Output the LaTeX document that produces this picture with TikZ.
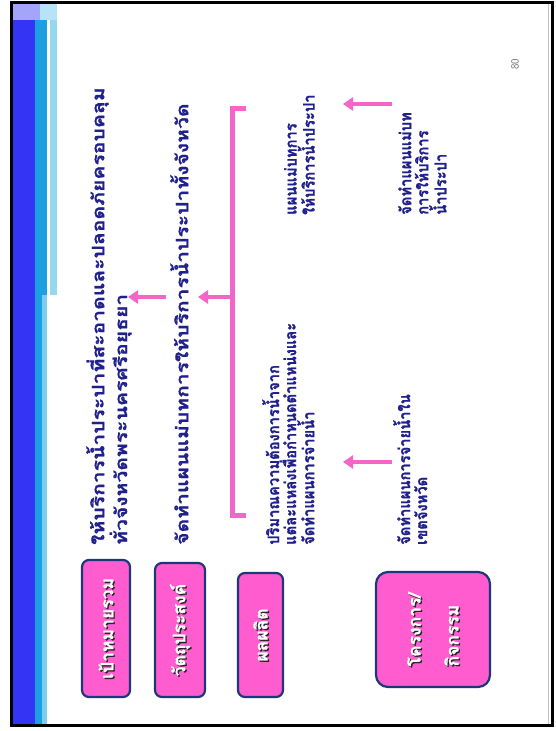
\documentclass[tikz,border=0pt]{standalone}
\usepackage{fontspec}
\newfontfamily\thaifont[Script=Thai, BoldFeatures={FakeBold=0.8}]{Loma}
\newfontfamily\thaiwide[Script=Thai, FakeStretch=1.24, BoldFeatures={FakeBold=0.8}]{Loma}
\newfontfamily\thainarrow[Script=Thai, FakeStretch=0.92, BoldFeatures={FakeBold=1}]{Loma}
\usetikzlibrary{arrows.meta,calc}
\definecolor{navy}{RGB}{32,32,140}
\definecolor{hotpink}{RGB}{245,100,200}
\definecolor{boxpink}{RGB}{255,92,208}
\definecolor{boxedge}{RGB}{30,55,120}
\definecolor{bandblue}{RGB}{52,52,245}
\definecolor{bandcyan}{RGB}{28,160,226}
\definecolor{bandlight}{RGB}{150,215,240}
\begin{document}
\begin{tikzpicture}[x=1pt,y=-1pt,
  txt/.style={rotate=90, anchor=north west, align=left, text=navy, inner sep=0pt,
    font=\thainarrow\bfseries\fontsize{16}{17}\selectfont},
  bigtxt/.style={txt, font=\thaiwide\bfseries\fontsize{17}{17}\selectfont},
  box/.style={draw=boxedge, line width=2.2pt, fill=boxpink, rounded corners=7pt,
    rotate=90, inner sep=0pt},
  boxlbl/.style={rotate=90, align=left, inner sep=0pt,
    font=\thaifont\bfseries\fontsize{17.5}{20}\selectfont},
  parrow/.style={draw=hotpink, line width=4.5pt, -{Triangle[length=10pt,width=13pt]}},
  brk/.style={draw=hotpink, line width=5pt}]
\useasboundingbox (0,0) rectangle (556,731);
\fill[white] (0,0) rectangle (556,731);
% left band
\fill[bandblue] (12,3) rectangle (35,724);
\fill[bandcyan] (35,3) rectangle (47,295);
\fill[bandcyan] (35,295) rectangle (42,724);
\fill[bandlight!80!bandcyan] (42,295) rectangle (47,724);
\fill[bandlight] (50,3) rectangle (57,295);
\fill[bandblue!45!white] (12,3) rectangle (40,20);
\fill[bandlight!70!white] (40,3) rectangle (57,20);
\draw[black!25, line width=0.8pt] (548,3) -- (548,724);
% frame
\draw[black, line width=3pt] (11.5,2) rectangle (552.5,725.5);
% boxes
\node[box, minimum width=137pt, minimum height=48pt] (b1) at (106,628.5) {};
\node[box, minimum width=134pt, minimum height=50pt] (b2) at (180,630) {};
\node[box, minimum width=124pt, minimum height=45pt] (b3) at (260.5,635) {};
\node[box, minimum width=115pt, minimum height=114pt, rounded corners=12pt] (b4) at (433,629.5) {};
\foreach \n/\t in {b1/เป้าหมายรวม, b2/วัตถุประสงค์, b3/ผลผลิต}{
  \node[boxlbl, text=black!85] at ($(\n.center)+(1.3,1.3)$) {\t};
  \node[boxlbl, text=white] at (\n.center) {\t};
}
\node[boxlbl, text=black!85, font=\thaifont\bfseries\fontsize{17.5}{38}\selectfont] at ($(b4.center)+(1.3,1.3)$) {โครงการ/\\กิจกรรม};
\node[boxlbl, text=white, font=\thaifont\bfseries\fontsize{17.5}{38}\selectfont] (b4l) at (b4.center) {โครงการ/\\กิจกรรม};
% texts
\node[bigtxt] (t1) at (86,545) {ให้บริการน้ำประปาที่สะอาดและปลอดภัยครอบคลุม\\ทั่วจังหวัดพระนครศรีอยุธยา};
\node[bigtxt] (t2) at (170,545) {จัดทำแผนแม่บทการให้บริการน้ำประปาทั้งจังหวัด};
\node[txt] (t3) at (262,545) {ปริมาณความต้องการน้ำจาก\\แต่ละแหล่งเพื่อกำหนดตำแหน่งและ\\จัดทำแผนการจ่ายน้ำ};
\node[txt] (t4) at (284,215) {แผนแม่บทการ\\ให้บริการน้ำประปา};
\node[txt] (t5) at (393,545) {จัดทำแผนการจ่ายน้ำใน\\เขตจังหวัด};
\node[txt] (t6) at (398,215) {จัดทำแผนแม่บท\\การให้บริการ\\น้ำประปา};
\node[rotate=90, text=black!55, font=\sffamily\fontsize{11}{11}\selectfont] (pg) at (515,64) {80};
% bracket
\coordinate (bt) at (232,108);
\coordinate (bb) at (232,515);
\coordinate (bm) at (232,297);
\draw[brk] ($(bt)+(14,0)$) -- (bt) -- (bb) -- ($(bb)+(14,0)$);
% arrows
\coordinate (a1s) at (166,297);
\coordinate (a1e) at (128,297);
\coordinate (a2e) at (198,297);
\coordinate (a3s) at (392,104);
\coordinate (a3e) at (343,104);
\coordinate (a4s) at (392,462);
\coordinate (a4e) at (343,462);
\draw[parrow] (a1s) -- (a1e);
\draw[parrow] (bm) -- (a2e);
\draw[parrow] (a3s) -- (a3e);
\draw[parrow] (a4s) -- (a4e);
\end{tikzpicture}
\end{document}
